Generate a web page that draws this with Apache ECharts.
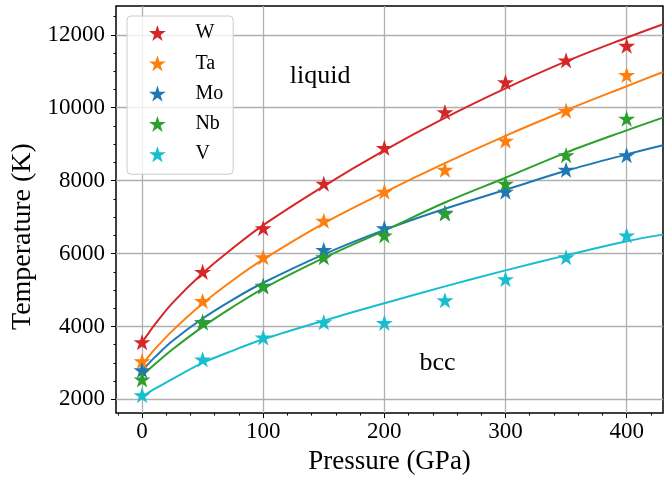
<!DOCTYPE html>
<html>
<head>
<meta charset="utf-8">
<script src="https://cdn.jsdelivr.net/npm/echarts@6/dist/echarts.min.js"></script>
<style>
html, body { margin: 0; padding: 0; background: #fff; }
#chart { width: 668px; height: 480px; }
</style>
</head>
<body>
<div id="chart"></div>
<script>
// measured melting points (stars)
const pressure = [0, 50, 100, 150, 200, 250, 300, 350, 400];
const wMelt = [3570, 5500, 6700, 7920, 8900, 9880, 10700, 11300, 11700];
const taMelt = [3050, 4700, 5900, 6900, 7700, 8300, 9100, 9920, 10900];
const moMelt = [2800, 4120, 5120, 6100, 6700, 7120, 7700, 8300, 8700];
const nbMelt = [2550, 4120, 5100, 5900, 6500, 7100, 7920, 8700, 9700];
const vMelt = [2120, 3100, 3700, 4120, 4100, 4720, 5300, 5900, 6500];

// fitted curves
const fitPressure = [0, 5, 10, 25, 50, 75, 100, 150, 200, 250, 300, 350, 400, 430];
const wFit = [3570, 3800, 4030, 4640, 5460, 6150, 6780, 7850, 8830, 9720, 10530, 11270, 11920, 12290];
const taFit = [2960, 3160, 3360, 3880, 4630, 5270, 5840, 6830, 7680, 8480, 9230, 9930, 10590, 10980];
const moFit = [2780, 2970, 3140, 3600, 4220, 4740, 5200, 5980, 6650, 7230, 7750, 8270, 8720, 8970];
const nbFit = [2640, 2800, 2950, 3370, 3990, 4540, 5040, 5880, 6630, 7400, 8080, 8770, 9380, 9730];
const vFit = [2070, 2180, 2280, 2560, 3000, 3340, 3650, 4160, 4640, 5100, 5540, 5950, 6340, 6520];

const metals = ['W', 'Ta', 'Mo', 'Nb', 'V'];
const colors = ['#d62728', '#ff7f0e', '#1f77b4', '#2ca02c', '#17becf'];
const meltData = [wMelt, taMelt, moMelt, nbMelt, vMelt];
const fitData = [wFit, taFit, moFit, nbFit, vFit];

// ticks
const xTicks = [0, 100, 200, 300, 400];
const xMinorTicks = [-20, 20, 40, 60, 80, 120, 140, 160, 180, 220, 240, 260, 280, 320, 340, 360, 380, 420];
const yTicks = [2000, 4000, 6000, 8000, 10000, 12000];
const yMinorTicks = [2500, 3000, 3500, 4500, 5000, 5500, 6500, 7000, 7500, 8500, 9000, 9500, 10500, 11000, 11500, 12500];

// text labels in data coordinates
const notes = [
    {text: 'liquid', at: [122, 10860]},
    {text: 'bcc', at: [229, 3000]}
];

const FONT = 'Liberation Serif';

function starPath() {
    let pts = [];
    for (let i = 0; i < 10; i++) {
        let r = i % 2 ? 0.381966 : 1;
        let a = -Math.PI / 2 + i * Math.PI / 5;
        pts.push((r * Math.cos(a)).toFixed(4) + ' ' + (r * Math.sin(a)).toFixed(4));
    }
    return 'path://M' + pts.join(' L') + ' Z';
}
const STAR = starPath();

let series = [];
metals.forEach(function (m, k) {
    series.push({
        type: 'line', name: m + ' fit',
        data: fitPressure.map((p, i) => [p, fitData[k][i]]),
        showSymbol: false, symbol: 'none', smooth: 0.35,
        lineStyle: {color: colors[k], width: 2},
        itemStyle: {color: colors[k]},
        z: 2, silent: true
    });
});
metals.forEach(function (m, k) {
    series.push({
        type: 'scatter', name: m,
        data: pressure.map((p, i) => [p, meltData[k][i]]),
        symbol: STAR, symbolSize: 17, symbolKeepAspect: true,
        itemStyle: {color: colors[k], opacity: 1},
        z: 3, silent: true
    });
});

let chart = echarts.init(document.getElementById('chart'));
let option = {
    animation: false,
    backgroundColor: '#fff',
    grid: {left: 116, right: 5, top: 6, bottom: 63, show: true, borderColor: '#000', borderWidth: 1.5, backgroundColor: 'transparent'},
    legend: {
        data: metals, orient: 'vertical', left: 127, top: 16,
        icon: STAR, itemWidth: 30, itemHeight: 16, itemGap: 10.3,
        padding: [7, 10, 10, 22],
        backgroundColor: 'rgba(255,255,255,0.8)', borderColor: '#cccccc', borderWidth: 1, borderRadius: 4,
        textStyle: {fontFamily: FONT, fontSize: 20, color: '#000', lineHeight: 20, padding: [0, 0, 0, 18]},
        selectedMode: false
    },
    xAxis: [{
        type: 'value', min: -21.5, max: 430, position: 'bottom',
        name: 'Pressure (GPa)', nameLocation: 'middle', nameGap: 33,
        nameTextStyle: {fontFamily: FONT, fontSize: 27, color: '#000'},
        axisLine: {show: false, onZero: false},
        axisTick: {show: true, customValues: xTicks, length: 5, lineStyle: {color: '#000', width: 1}},
        axisLabel: {customValues: xTicks, fontFamily: FONT, fontSize: 23, color: '#000', margin: 7},
        splitLine: {show: true, lineStyle: {color: '#b0b0b0', width: 1.3}}
    }, {
        type: 'value', min: -21.5, max: 430, position: 'bottom',
        axisLine: {show: false, onZero: false},
        axisTick: {show: true, customValues: xMinorTicks, length: 2.5, lineStyle: {color: '#000', width: 1}},
        axisLabel: {show: false},
        splitLine: {show: false}
    }],
    yAxis: [{
        type: 'value', min: 1625, max: 12790, position: 'left',
        name: 'Temperature (K)', nameLocation: 'middle', nameGap: 67, nameRotate: 90,
        nameTextStyle: {fontFamily: FONT, fontSize: 28, color: '#000', padding: [0, 54, 0, 0]},
        axisLine: {show: false, onZero: false},
        axisTick: {show: true, customValues: yTicks, length: 5, lineStyle: {color: '#000', width: 1}},
        axisLabel: {customValues: yTicks, fontFamily: FONT, fontSize: 23, color: '#000', margin: 11,
            formatter: function (v) { return String(v); }},
        splitLine: {show: true, lineStyle: {color: '#b0b0b0', width: 1.3}}
    }, {
        type: 'value', min: 1625, max: 12790, position: 'left',
        axisLine: {show: false, onZero: false},
        axisTick: {show: true, customValues: yMinorTicks, length: 2.5, lineStyle: {color: '#000', width: 1}},
        axisLabel: {show: false},
        splitLine: {show: false}
    }],
    series: series
};
chart.setOption(option);

// annotations placed through the axes
chart.setOption({
    graphic: notes.map(function (n) {
        let px = chart.convertToPixel({xAxisIndex: 0, yAxisIndex: 0}, n.at);
        return {
            type: 'text', x: px[0], y: px[1], z: 10,
            style: {text: n.text, font: '26px "' + FONT + '"', fill: '#000', textAlign: 'left', textVerticalAlign: 'middle'}
        };
    })
});
</script>
</body>
</html>
